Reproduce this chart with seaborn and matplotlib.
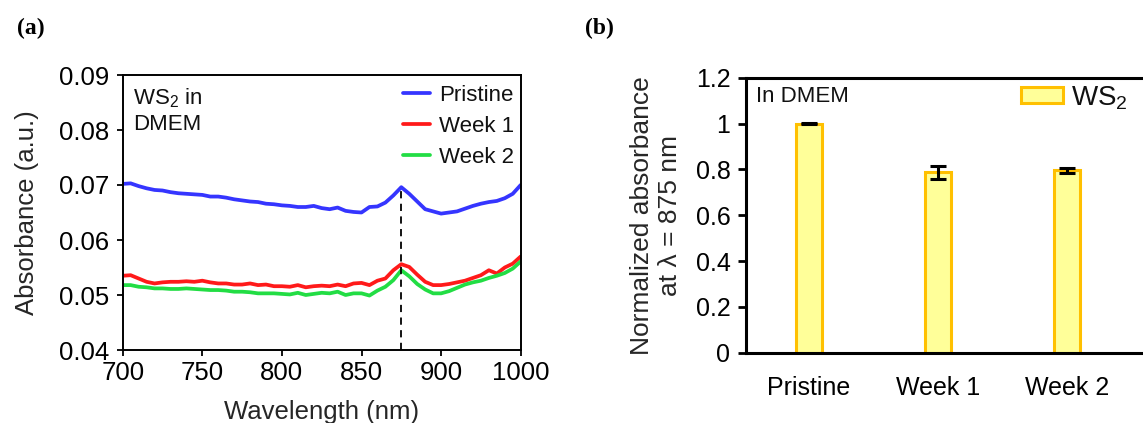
import matplotlib
matplotlib.use("Agg")
import matplotlib.pyplot as plt
from matplotlib.patches import Patch
import pandas as pd
import seaborn as sns

# ---------------- Panel (a) data ----------------
wavelength = [700, 705, 710, 715, 720, 725, 730, 735, 740, 745,
              750, 755, 760, 765, 770, 775, 780, 785, 790, 795,
              800, 805, 810, 815, 820, 825, 830, 835, 840, 845,
              850, 855, 860, 865, 870, 875, 880, 885, 890, 895,
              900, 905, 910, 915, 920, 925, 930, 935, 940, 945, 950]
pristine = [0.0702, 0.0703, 0.0698, 0.0694, 0.0691, 0.0690, 0.0687, 0.0685, 0.0684, 0.0683,
            0.0682, 0.0679, 0.0679, 0.0677, 0.0674, 0.0672, 0.0670, 0.0669, 0.0666, 0.0665,
            0.0663, 0.0662, 0.0660, 0.0660, 0.0662, 0.0658, 0.0656, 0.0659, 0.0653, 0.0651,
            0.0650, 0.0660, 0.0661, 0.0668, 0.0681, 0.0696, 0.0684, 0.0670, 0.0656, 0.0652,
            0.0648, 0.0650, 0.0652, 0.0657, 0.0662, 0.0666, 0.0669, 0.0671, 0.0676, 0.0684, 0.0700]
week1 = [0.0535, 0.0536, 0.0530, 0.0524, 0.0521, 0.0523, 0.0524, 0.0524, 0.0525, 0.0524,
         0.0526, 0.0523, 0.0521, 0.0521, 0.0519, 0.0519, 0.0521, 0.0518, 0.0519, 0.0516,
         0.0516, 0.0515, 0.0518, 0.0514, 0.0516, 0.0517, 0.0516, 0.0519, 0.0516, 0.0521,
         0.0522, 0.0518, 0.0526, 0.0530, 0.0545, 0.0556, 0.0551, 0.0537, 0.0524, 0.0518,
         0.0518, 0.0520, 0.0523, 0.0526, 0.0531, 0.0536, 0.0545, 0.0539, 0.0550, 0.0557, 0.0570]
week2 = [0.0518, 0.0518, 0.0515, 0.0514, 0.0512, 0.0512, 0.0511, 0.0511, 0.0512, 0.0511,
         0.0510, 0.0509, 0.0509, 0.0508, 0.0506, 0.0506, 0.0505, 0.0503, 0.0503, 0.0503,
         0.0502, 0.0501, 0.0504, 0.0500, 0.0502, 0.0504, 0.0503, 0.0506, 0.0500, 0.0503,
         0.0503, 0.0499, 0.0508, 0.0515, 0.0527, 0.0545, 0.0534, 0.0520, 0.0510, 0.0503,
         0.0503, 0.0507, 0.0513, 0.0519, 0.0523, 0.0526, 0.0531, 0.0535, 0.0540, 0.0548, 0.0561]
series_names = ["Pristine", "Week 1", "Week 2"]
x_tick_positions = [700, 750, 800, 850, 900, 950]
x_tick_labels = ["700", "750", "800", "850", "900", "1000"]
y_ticks_a = [0.04, 0.05, 0.06, 0.07, 0.08, 0.09]
peak_wavelength = 875

# ---------------- Panel (b) data ----------------
bar_categories = ["Pristine", "Week 1", "Week 2"]
bar_values = [1.0, 0.787, 0.796]
bar_errors = [0.003, 0.028, 0.012]
y_ticks_b = [0, 0.2, 0.4, 0.6, 0.8, 1.0, 1.2]
y_tick_labels_b = ["0", "0.2", "0.4", "0.6", "0.8", "1", "1.2"]

# ---------------- Style ----------------
sns.set_style("ticks")
plt.rcParams["font.family"] = ["Liberation Sans", "DejaVu Sans"]
plt.rcParams["mathtext.fontset"] = "custom"
plt.rcParams["mathtext.rm"] = "Liberation Sans"
plt.rcParams["mathtext.it"] = "Liberation Sans:italic"
plt.rcParams["axes.edgecolor"] = "black"
plt.rcParams["xtick.color"] = "black"
plt.rcParams["ytick.color"] = "black"
plt.rcParams["text.color"] = "#111111"

W, H = 1143, 423
fig = plt.figure(figsize=(W / 100, H / 100), dpi=100)


def rect(l, t, r, b):
    return [l / W, 1 - b / H, (r - l) / W, (b - t) / H]


ax1 = fig.add_axes(rect(122.7, 75, 520.7, 350))
ax2 = fig.add_axes(rect(745.7, 77.7, 1155, 352.7))

# ---------------- Panel (a) ----------------
n = len(wavelength)
df = pd.DataFrame({
    "Wavelength": wavelength * 3,
    "Absorbance": pristine + week1 + week2,
    "Sample": [s for s in series_names for _ in range(n)],
})
palette = {"Pristine": "#3535FF", "Week 1": "#FF1A1A", "Week 2": "#22DD44"}
sns.lineplot(data=df, x="Wavelength", y="Absorbance", hue="Sample",
             hue_order=series_names, palette=palette, linewidth=2.7,
             estimator=None, ax=ax1)

peak_val = pristine[wavelength.index(peak_wavelength)]
ax1.vlines(peak_wavelength, y_ticks_a[0], peak_val, colors="black",
           linestyles=(0, (4, 3)), linewidth=1.3, zorder=4)

ax1.set_xlim(x_tick_positions[0], x_tick_positions[-1])
ax1.set_ylim(y_ticks_a[0], y_ticks_a[-1])
ax1.set_xticks(x_tick_positions)
ax1.set_xticklabels(x_tick_labels)
ax1.set_yticks(y_ticks_a)
ax1.set_yticklabels([f"{v:.2f}" for v in y_ticks_a])
ax1.tick_params(axis="both", labelsize=18.5, width=1.3, length=4, direction="out")
ax1.tick_params(axis="x", pad=4)
ax1.tick_params(axis="y", pad=6)
ax1.set_xlabel("Wavelength (nm)", fontsize=18.5, labelpad=11)
ax1.set_ylabel("Absorbance (a.u.)", fontsize=18.5, labelpad=14)
for sp in ax1.spines.values():
    sp.set_visible(True)
    sp.set_linewidth(1.4)
    sp.set_color("black")

ax1.legend(frameon=False, fontsize=16, loc="upper right",
           bbox_to_anchor=(514 / W, 1 - 85 / H), bbox_transform=fig.transFigure,
           borderaxespad=0, borderpad=0, handlelength=1.2, handletextpad=0.4,
           labelspacing=0.45)
ax1.text(133 / W, 1 - 86 / H, "WS$_2$ in\nDMEM", transform=fig.transFigure,
         fontsize=16, ha="left", va="top", linespacing=1.25)

# ---------------- Panel (b) ----------------
sns.barplot(x=bar_categories, y=bar_values, ax=ax2, color="#FFFF99",
            edgecolor="#FFC000", linewidth=2.2, width=0.2, saturation=1,
            errorbar=None)
ax2.errorbar(range(len(bar_categories)), bar_values, yerr=bar_errors, fmt="none",
             ecolor="black", elinewidth=2.2, capsize=6, capthick=2.2, zorder=5)
ax2.set_xlim(-0.49, 2.683)
ax2.set_ylim(y_ticks_b[0], y_ticks_b[-1])
ax2.set_yticks(y_ticks_b)
ax2.set_yticklabels(y_tick_labels_b)
ax2.tick_params(axis="y", labelsize=18, width=2.0, length=6, pad=5)
ax2.tick_params(axis="x", labelsize=18, length=0, pad=17)
ax2.set_xlabel("")
ax2.set_ylabel("Normalized absorbance\nat \u03bb = 875 nm", fontsize=19, labelpad=10)
for sp in ax2.spines.values():
    sp.set_visible(True)
    sp.set_linewidth(2.2)
    sp.set_color("black")

leg_handle = Patch(facecolor="#FFFF99", edgecolor="#FFC000", linewidth=2.2)
ax2.legend([leg_handle], ["WS$_2$"], frameon=False, fontsize=20, loc="center left",
           bbox_to_anchor=(1021 / W, 1 - 98 / H), bbox_transform=fig.transFigure,
           borderaxespad=0, borderpad=0, handlelength=1.5, handleheight=0.5,
           handletextpad=0.3)
ax2.text(756 / W, 1 - 97 / H, "In DMEM", transform=fig.transFigure,
         fontsize=16, ha="left", va="center")

# ---------------- Panel labels ----------------
fig.text(17 / W, 1 - 28 / H, "(a)", fontfamily="Liberation Serif",
         fontweight="bold", fontsize=17, ha="left", va="center", color="black")
fig.text(585 / W, 1 - 28 / H, "(b)", fontfamily="Liberation Serif",
         fontweight="bold", fontsize=17, ha="left", va="center", color="black")

fig.savefig("out.png", dpi=100)
